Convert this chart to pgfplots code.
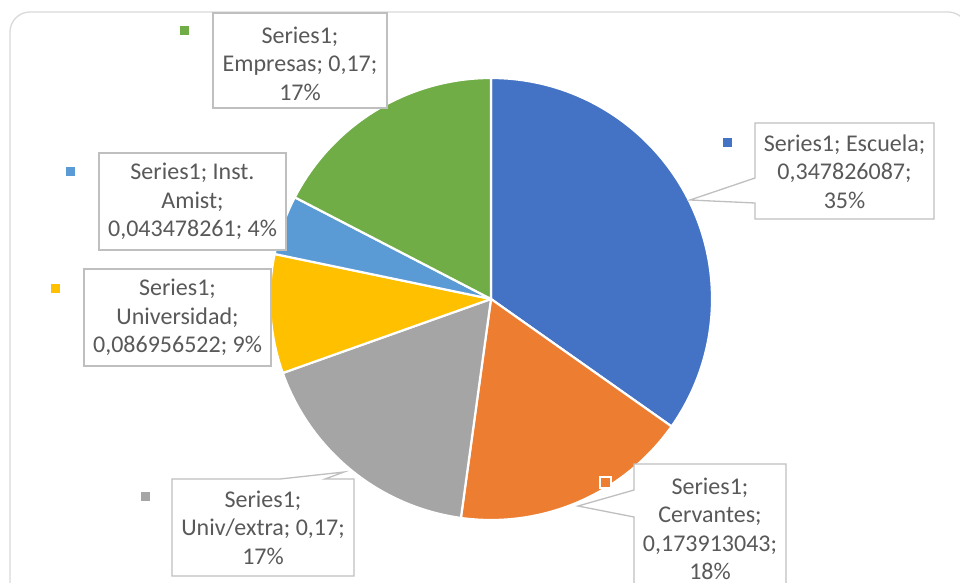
\documentclass[border=0pt]{standalone}
\usepackage{pgfplots}
\pgfplotsset{compat=1.18}
\usepackage{pgfplotstable}
\usepackage{fontspec}
\setmainfont{Carlito}
\definecolor{cEsc}{HTML}{4472C4}
\definecolor{cCer}{HTML}{ED7D31}
\definecolor{cUni}{HTML}{A5A5A5}
\definecolor{cUnv}{HTML}{FFC000}
\definecolor{cIns}{HTML}{5B9BD5}
\definecolor{cEmp}{HTML}{70AD47}
\definecolor{txt}{HTML}{595959}
\definecolor{boxc}{HTML}{BFBFBF}
\definecolor{frame}{HTML}{D9D9D9}

\pgfplotstableread[col sep=comma]{
label,value,color
Escuela,0.347826087,cEsc
Cervantes,0.173913043,cCer
Univ/extra,0.173913043,cUni
Universidad,0.086956522,cUnv
Inst. Amist,0.043478261,cIns
Empresas,0.173913043,cEmp
}\piedata

\begin{document}
\begin{tikzpicture}
\begin{axis}[
  width=960pt, height=582pt, scale only axis,
  xmin=0, xmax=960, ymin=0, ymax=582,
  hide axis, clip=false,
]
% chart frame
\draw[frame, line width=1.3pt, rounded corners=20pt] (axis cs:10,570) -- (axis cs:968,570) -- (axis cs:968,-30) -- (axis cs:10,-30) -- cycle;

% pie slices from data
\pgfplotstablegetrowsof{\piedata}
\pgfmathtruncatemacro\lastrow{\pgfplotsretval-1}
\def\curang{90}
\pgfplotsforeachungrouped \i in {0,...,\lastrow}{%
  \pgfplotstablegetelem{\i}{value}\of\piedata
  \pgfmathsetmacro\endang{\curang-360*\pgfplotsretval}%
  \pgfplotstablegetelem{\i}{color}\of\piedata
  \edef\slicecol{\pgfplotsretval}%
  \edef\temp{\noexpand\fill[fill=\slicecol, draw=white, line width=2.2pt, line join=round] (axis cs:491,283) -- ++(\curang:221pt) arc[start angle=\curang, end angle=\endang, radius=221pt] -- cycle;}%
  \temp
  \global\let\curang\endang
}

\tikzset{lbl/.style={align=center, text=txt, font=\fontsize{24}{28.5}\selectfont, inner sep=0pt},
         cbox/.style={draw=boxc, fill=white, line width=1.3pt}}

% Empresas
\draw[cbox] (axis cs:213,569) rectangle (axis cs:387,474);
\node[lbl] at (axis cs:300,518.5) {Series1;\\Empresas; 0,17;\\17\%};
\fill[cEmp] (axis cs:179.5,546.5) rectangle (axis cs:188.5,555.5);

% Escuela
\draw[cbox] (axis cs:755,404) -- (axis cs:755,459) -- (axis cs:934,459) -- (axis cs:934,363) -- (axis cs:755,363) -- (axis cs:755,379) -- (axis cs:690,382) -- cycle;
\node[lbl] at (axis cs:844.5,410.5) {Series1; Escuela;\\0,347826087;\\35\%};
\fill[cEsc] (axis cs:722.5,434.5) rectangle (axis cs:731.5,443.5);

% Inst. Amist
\draw[cbox] (axis cs:99,429) rectangle (axis cs:286,332);
\node[lbl] at (axis cs:192.5,380.5) {Series1; Inst.\\Amist;\\0,043478261; 4\%};
\fill[cIns] (axis cs:65.5,405.5) rectangle (axis cs:74.5,414.5);

% Universidad
\draw[cbox] (axis cs:84,313) rectangle (axis cs:271,216);
\node[lbl] at (axis cs:177.5,264.5) {Series1;\\Universidad;\\0,086956522; 9\%};
\fill[cUnv] (axis cs:50.5,289.5) rectangle (axis cs:59.5,298.5);

% Univ/extra
\draw[cbox] (axis cs:172,103) -- (axis cs:280,103) -- (axis cs:344,110) -- (axis cs:325,103) -- (axis cs:354,103) -- (axis cs:354,6) -- (axis cs:172,6) -- cycle;
\node[lbl] at (axis cs:263,54.5) {Series1;\\Univ/extra; 0,17;\\17\%};
\fill[cUni] (axis cs:140.5,81.5) rectangle (axis cs:149.5,90.5);

% Cervantes
\draw[cbox] (axis cs:634,92) -- (axis cs:634,118) -- (axis cs:786,118) -- (axis cs:786,-30) -- (axis cs:634,-30) -- (axis cs:634,65) -- (axis cs:578,76) -- cycle;
\node[lbl] at (axis cs:710,53) {Series1;\\Cervantes;\\0,173913043;\\18\%};
\filldraw[fill=cCer, draw=white, line width=2pt] (axis cs:599.5,94.5) rectangle (axis cs:610.5,105.5);
\end{axis}
\pgfresetboundingbox
\path[use as bounding box] (current axis.south west) rectangle (current axis.north east);
\end{tikzpicture}
\end{document}
